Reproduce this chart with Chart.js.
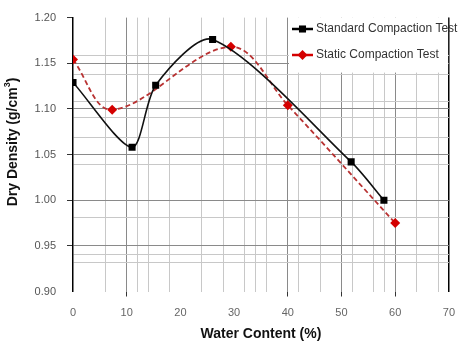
<!DOCTYPE html>
<html>
<head>
<meta charset="utf-8">
<script src="https://cdn.jsdelivr.net/npm/chart.js@4.4.1/dist/chart.umd.min.js"></script>
<style>
html,body{margin:0;padding:0;background:#fff;}
#wrap{width:465px;height:344px;}
</style>
</head>
<body>
<div id="wrap"><canvas id="c" width="465" height="344"></canvas></div>
<script>
// ---- data ----
const standardX = [0, 11, 15.4, 26, 51.8, 57.9];
const standardY = [1.129, 1.058, 1.126, 1.176, 1.042, 1.000];
const staticX = [0, 7.3, 29.4, 40, 60];
const staticY = [1.154, 1.099, 1.168, 1.104, 0.975];
const seriesNames = ['Standard Compaction Test', 'Static Compaction Test'];

const xLabelTicks = [0, 10, 20, 30, 40, 50, 60, 70];
const xGridLines = [6, 10, 12, 14, 18, 24, 28, 32, 34, 36, 40, 42, 46, 50, 52, 56, 58, 60, 64, 68, 70];
const xDarkLines = [10, 40, 50, 60];
const yLabelTicks = [0.90, 0.95, 1.00, 1.05, 1.10, 1.15, 1.20];
const yGridLines = [0.932, 0.941, 0.95, 0.981, 1.00, 1.039, 1.05, 1.069, 1.091, 1.10, 1.108, 1.138, 1.15, 1.158];
const yDarkLines = [0.95, 1.00, 1.05, 1.10, 1.15];

const xTitle = 'Water Content (%)';
const yTitle = ['Dry Density (g/cm', '3', ')'];

// ---- helpers ----
const has = (arr, v) => arr.some(a => Math.abs(a - v) < 1e-6);
const uniq = arr => Array.from(new Set(arr.map(v => +v.toFixed(4)))).sort((a, b) => a - b);
const toPts = (xs, ys) => xs.map((x, i) => ({x: x, y: ys[i]}));

const bgPlugin = {
  id: 'bg',
  beforeDraw(chart) {
    const c = chart.ctx;
    c.save(); c.fillStyle = '#fff'; c.fillRect(0, 0, chart.width, chart.height); c.restore();
  }
};

const legendBoxPlugin = {
  id: 'legendBox',
  beforeDatasetsDraw(chart) {
    const c = chart.ctx;
    const a = chart.chartArea;
    c.save();
    c.fillStyle = '#fff';
    c.fillRect(289, a.top, a.right - 289.75, 55);
    c.restore();
  },
  afterDraw(chart) {
    const c = chart.ctx;
    c.save();
    const rows = [29, 55];
    chart.data.datasets.forEach((ds, i) => {
      const y = rows[i];
      c.strokeStyle = ds.pointBackgroundColor;
      c.lineWidth = 2.5;
      c.setLineDash([]);
      c.beginPath(); c.moveTo(292, y); c.lineTo(313, y); c.stroke();
      c.fillStyle = ds.pointBackgroundColor;
      Chart.helpers.drawPoint(c, {pointStyle: ds.pointStyle, radius: ds.pointRadius, borderWidth: 0, rotation: 0}, 302.5, y);
      c.fillStyle = '#333';
      c.font = '12px "Liberation Sans", Arial, sans-serif';
      c.textBaseline = 'middle';
      c.textAlign = 'left';
      c.fillText(seriesNames[i], 316, y);
    });
    // y axis title with superscript
    c.translate(13, 142);
    c.rotate(-Math.PI / 2);
    c.fillStyle = '#111';
    c.textBaseline = 'middle';
    const f1 = 'bold 14px "Liberation Sans", Arial, sans-serif';
    const f2 = 'bold 9px "Liberation Sans", Arial, sans-serif';
    c.font = f1; const w1 = c.measureText(yTitle[0]).width; const w3 = c.measureText(yTitle[2]).width;
    c.font = f2; const w2 = c.measureText(yTitle[1]).width;
    let x = -(w1 + w2 + w3) / 2;
    c.font = f1; c.textAlign = 'left'; c.fillText(yTitle[0], x, 0); x += w1;
    c.font = f2; c.fillText(yTitle[1], x, -5); x += w2;
    c.font = f1; c.fillText(yTitle[2], x, 0);
    c.restore();
  }
};

new Chart(document.getElementById('c'), {
  type: 'line',
  data: {
    datasets: [
      {
        label: seriesNames[0],
        data: toPts(standardX, standardY),
        borderColor: '#111',
        borderWidth: 1.6,
        tension: 0.27,
        pointStyle: 'rect',
        pointRadius: 5,
        pointBackgroundColor: '#000',
        pointBorderWidth: 0,
        fill: false
      },
      {
        label: seriesNames[1],
        data: toPts(staticX, staticY),
        borderColor: '#b83232',
        borderWidth: 1.8,
        borderDash: [5, 3],
        tension: 0.35,
        pointStyle: 'rectRot',
        pointRadius: 5,
        pointBackgroundColor: '#d40000',
        pointBorderWidth: 0,
        fill: false
      }
    ]
  },
  options: {
    responsive: false,
    animation: false,
    devicePixelRatio: 1,
    layout: {padding: {top: 13, right: 3, left: 0, bottom: 0}},
    plugins: {legend: {display: false}, tooltip: {enabled: false}},
    scales: {
      x: {
        type: 'linear',
        min: 0, max: 70,
        afterBuildTicks: s => { s.ticks = uniq(xLabelTicks.concat(xGridLines)).map(v => ({value: v})); },
        afterFit: s => { s.height = 52.5; },
        border: {display: false},
        grid: {
          color: ctx => { const v = ctx.tick.value; if (v === 70) return '#000'; if (v === 0) return 'rgba(0,0,0,0)'; if (has(xDarkLines, v)) return '#8a8a8a'; if (has(xGridLines, v)) return '#c8c8c8'; return 'rgba(0,0,0,0)'; },
          lineWidth: ctx => ctx.tick.value === 70 ? 1.5 : 1,
          tickLength: 5,
          tickColor: ctx => has(xDarkLines, ctx.tick.value) ? '#333' : 'rgba(0,0,0,0)'
        },
        ticks: {
          autoSkip: false, maxRotation: 0, padding: 10,
          color: '#666',
          font: {size: 11, family: '"Liberation Sans", Arial, sans-serif'},
          callback: v => has(xLabelTicks, v) ? String(Math.round(v)) : ''
        },
        title: {display: true, text: xTitle, color: '#111', font: {size: 14, weight: 'bold', family: '"Liberation Sans", Arial, sans-serif'}, padding: {top: 0, bottom: 1}}
      },
      y: {
        type: 'linear',
        min: 0.90, max: 1.20,
        afterBuildTicks: s => { s.ticks = uniq(yLabelTicks.concat(yGridLines)).map(v => ({value: v})); },
        afterFit: s => { s.width = 73; },
        border: {display: true, color: '#000', width: 1.5},
        grid: {
          color: ctx => { const v = ctx.tick.value; if (has(yDarkLines, v)) return '#8a8a8a'; if (has(yGridLines, v)) return '#c8c8c8'; return 'rgba(0,0,0,0)'; },
          tickLength: 6,
          tickColor: ctx => (has(yLabelTicks, ctx.tick.value) && ctx.tick.value > 0.91) ? '#333' : 'rgba(0,0,0,0)'
        },
        ticks: {
          autoSkip: false, padding: 11,
          color: '#555',
          font: {size: 11, family: '"Liberation Sans", Arial, sans-serif'},
          callback: v => has(yLabelTicks, v) ? v.toFixed(2) : ''
        }
      }
    }
  },
  plugins: [bgPlugin, legendBoxPlugin]
});
</script>
</body>
</html>
